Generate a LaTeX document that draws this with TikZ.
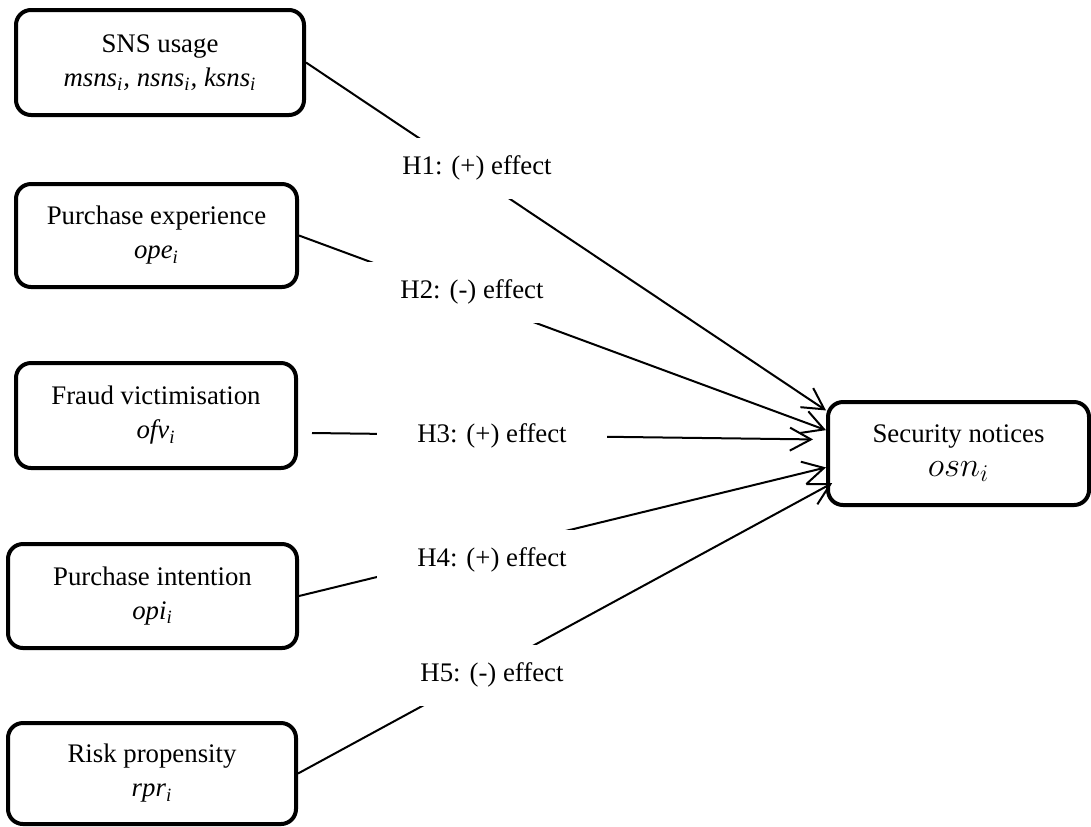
\documentclass[tikz,border=0pt]{standalone}
\usepackage{fontspec}
\setmainfont{Liberation Serif}
\usetikzlibrary{arrows.meta,calc}

\begin{document}
\begin{tikzpicture}[x=0.5pt, y=-0.5pt, >={Straight Barb[length=10.5pt,width=11.5pt]},
  every node/.style={font=\fontsize{13.4}{17}\selectfont},
  var/.style={draw, line width=2pt, rounded corners=7.5pt, align=center, inner sep=0pt},
  effect/.style={fill=white, minimum width=115pt, minimum height=30.5pt, inner sep=0pt},
  link/.style={->, line width=1pt}]
  \useasboundingbox (0,0) rectangle (1091,826);

  % Predictors
  \node[var, minimum width=144pt, minimum height=52.5pt] (sns) at (160,62.5)
    {SNS usage\\ \textit{msns}\textsubscript{\textit{i}}\textit{, nsns}\textsubscript{\textit{i}}\textit{, ksns}\textsubscript{\textit{i}}};
  \node[var, minimum width=140.5pt, minimum height=51.5pt] (ope) at (156.5,235.5)
    {Purchase experience\\ \textit{ope}\textsubscript{\textit{i}}};
  \node[var, minimum width=140pt, minimum height=52.5pt] (ofv) at (156,415.5)
    {Fraud victimisation\\ \textit{ofv}\textsubscript{\textit{i}}};
  \node[var, minimum width=144.5pt, minimum height=52pt] (opi) at (152.5,596)
    {Purchase intention\\ \textit{opi}\textsubscript{\textit{i}}};
  \node[var, minimum width=144pt, minimum height=50.5pt] (rpr) at (152,773.5)
    {Risk propensity\\ \textit{rpr}\textsubscript{\textit{i}}};

  % Outcome
  \node[var, minimum width=130.5pt, minimum height=51.5pt] (osn) at (958.5,453.5)
    {Security notices\\ {\fontsize{17.5}{18}\selectfont $osn_i$}};

  % Hypothesised effects
  \draw[link] (sns.east) -- (osn.162);
  \draw[link] (ope.east) -- (osn.170);
  \draw[link, shorten >=6.5pt] ($(ofv.east)+(14,17.5)$) -- (osn.174);
  \draw[link] (opi.east) -- (osn.186);
  \draw[link, shorten >=-3.5pt] (rpr.east) -- (osn.194);

  % Labels over the paths
  \node[effect] (h1) at (477,168) {H1: (+) effect};
  \node[effect] (h2) at (472,292) {H2: (-) effect};
  \node[effect] (h3) at (492,436) {H3: (+) effect};
  \node[effect] (h4) at (492,560) {H4: (+) effect};
  \node[effect] (h5) at (492,675) {H5: (-) effect};
\end{tikzpicture}
\end{document}
